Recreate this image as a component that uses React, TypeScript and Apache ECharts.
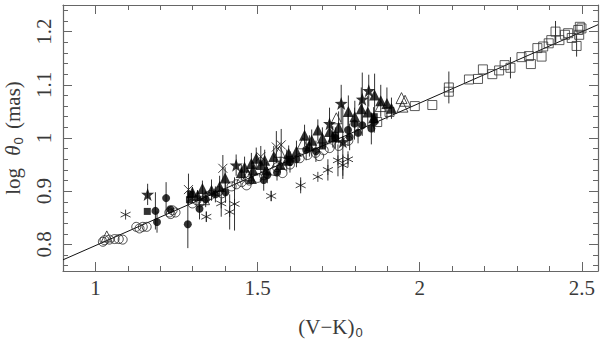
import React, { useEffect, useRef } from "react";
import * as echarts from "echarts";

// ---- data (x = (V-K)0, y = log theta0, e = error) ----
const fitLine = [[0.9, 0.771], [2.55, 1.213]];

const openCircles = [
  [1.023, 0.805], [1.028, 0.808], [1.043, 0.809], [1.059, 0.81], [1.072, 0.81], [1.084, 0.809],
  [1.126, 0.833], [1.136, 0.83], [1.146, 0.833], [1.158, 0.833],
  [1.228, 0.86], [1.238, 0.864], [1.247, 0.86], [1.232, 0.857],
  [1.299, 0.877], [1.312, 0.883], [1.321, 0.879], [1.33, 0.882], [1.345, 0.89], [1.355, 0.893],
  [1.38, 0.9], [1.39, 0.896],
  [1.42, 0.909], [1.435, 0.913], [1.451, 0.917], [1.466, 0.911], [1.475, 0.92], [1.5, 0.925], [1.52, 0.93],
  [1.552, 0.938], [1.577, 0.934], [1.56, 0.945], [1.6, 0.95],
  [1.63, 0.962], [1.654, 0.968], [1.679, 0.972], [1.704, 0.977], [1.722, 0.981], [1.69, 0.966],
  [1.75, 0.985], [1.78, 0.995],
];

const filledCircles = [
  [1.185, 0.863, 0.035], [1.19, 0.842, 0.02], [1.218, 0.887, 0.03], [1.231, 0.866, 0],
  [1.285, 0.838, 0.045], [1.321, 0.867, 0.02], [1.34, 0.885, 0.015], [1.37, 0.894, 0.015], [1.401, 0.898, 0.02],
  [1.519, 0.921, 0.02], [1.53, 0.93, 0.015], [1.56, 0.935, 0.015], [1.6, 0.955, 0.02], [1.62, 0.96, 0.015],
  [1.65, 0.978, 0.02], [1.68, 0.975, 0.02], [1.74, 1.0, 0.02],
  [1.779, 1.015, 0.03], [1.784, 1.002, 0.025], [1.799, 1.027, 0.03], [1.81, 1.01, 0.02],
  [1.823, 1.024, 0.02], [1.851, 1.018, 0.03], [1.86, 1.03, 0.02],
];

const stars = [
  [1.161, 0.894, 0.02], [1.434, 0.949, 0.02], [1.722, 1.027, 0.03], [1.758, 1.065, 0.035],
  [1.763, 0.993, 0.07], [1.823, 1.073, 0.05], [1.843, 1.089, 0.03],
];

const asterisks = [
  [1.093, 0.856, 0], [1.342, 0.852, 0.01], [1.388, 0.877, 0.025], [1.414, 0.861, 0.033],
  [1.429, 0.876, 0.05], [1.542, 0.891, 0.01], [1.633, 0.911, 0.015], [1.686, 0.927, 0],
  [1.717, 0.94, 0.02], [1.748, 0.958, 0.03], [1.763, 0.949, 0.02], [1.779, 0.96, 0.015],
];

const crosses = [
  [1.287, 0.903, 0.03], [1.393, 0.943, 0.025], [1.51, 0.965, 0.02], [1.558, 0.983, 0.03], [1.573, 0.987, 0.03],
];

const filledTriangles = [
  [1.299, 0.898, 0.01], [1.315, 0.892, 0.01], [1.33, 0.905, 0.015], [1.358, 0.902, 0.02], [1.383, 0.909, 0.02],
  [1.4, 0.925, 0.02], [1.45, 0.935, 0.015], [1.46, 0.945, 0.02], [1.481, 0.952, 0.02], [1.486, 0.94, 0.015],
  [1.481, 0.924, 0.01], [1.496, 0.962, 0.02], [1.51, 0.95, 0.015], [1.522, 0.958, 0.02], [1.527, 0.94, 0.015],
  [1.55, 0.965, 0.02], [1.57, 0.95, 0.015], [1.59, 0.958, 0.02], [1.596, 0.971, 0.015], [1.62, 0.975, 0.02],
  [1.645, 1.005, 0.02], [1.66, 0.985, 0.02], [1.667, 0.996, 0.02], [1.686, 1.015, 0.02], [1.7, 1.0, 0.02],
  [1.722, 1.012, 0.02], [1.732, 1.002, 0.02], [1.75, 1.02, 0.03], [1.78, 1.05, 0.03], [1.8, 1.04, 0.03],
  [1.82, 1.055, 0.04], [1.84, 1.049, 0.03], [1.858, 1.038, 0.02], [1.861, 1.081, 0.04], [1.88, 1.07, 0.03],
  [1.899, 1.065, 0.03], [1.913, 1.056, 0.02],
];

const openTriangles = [
  [1.035, 0.815], [1.335, 0.885], [1.47, 0.93], [1.568, 0.974], [1.64, 0.99], [1.743, 1.037],
  [1.88, 1.06], [1.944, 1.075], [1.947, 1.059], [1.955, 1.07],
];

const filledSquares = [
  [1.16, 0.862], [1.293, 0.894], [1.29, 0.884], [1.6, 0.96], [1.7, 0.985], [1.74, 1.005], [1.86, 1.04],
];

const openSquares = [
  [1.869, 1.03, 0], [1.907, 1.049, 0], [1.985, 1.06, 0], [2.039, 1.062, 0],
  [2.09, 1.095, 0.03], [2.09, 1.087, 0], [2.152, 1.11, 0], [2.18, 1.111, 0],
  [2.195, 1.129, 0], [2.224, 1.12, 0], [2.245, 1.127, 0], [2.262, 1.137, 0],
  [2.28, 1.132, 0.02], [2.314, 1.152, 0], [2.343, 1.139, 0], [2.337, 1.154, 0],
  [2.363, 1.169, 0], [2.376, 1.153, 0], [2.381, 1.172, 0], [2.398, 1.178, 0],
  [2.406, 1.184, 0], [2.419, 1.2, 0.02], [2.431, 1.184, 0], [2.448, 1.194, 0],
  [2.458, 1.197, 0], [2.469, 1.188, 0], [2.484, 1.173, 0.02], [2.489, 1.203, 0],
  [2.494, 1.209, 0], [2.492, 1.194, 0], [2.499, 1.206, 0],
];

const xLabels = [1, 1.5, 2, 2.5];
const yLabels = [0.8, 0.9, 1, 1.1, 1.2];

const X_MIN = 0.9, X_MAX = 2.55, Y_MIN = 0.75, Y_MAX = 1.25;

const xMinor: number[] = [];
for (let i = 10; i <= 25; i++) xMinor.push(Math.round(i * 10) / 100);
const yMinor: number[] = [];
for (let i = 38; i <= 62; i++) yMinor.push(Math.round(i * 2) / 100);

const STAR = "path://M0,-10 L2.35,-3.24 L9.51,-3.09 L3.8,1.24 L5.88,8.09 L0,4 L-5.88,8.09 L-3.8,1.24 L-9.51,-3.09 L-2.35,-3.24 Z";
const ASTER = "path://M0,-10 L0,10 M-8.66,-5 L8.66,5 M-8.66,5 L8.66,-5";
const CROSS = "path://M-10,-10 L10,10 M-10,10 L10,-10";

const FONT = "Liberation Serif";
const TXT = "#3a3a3a";
const FRAME = "#666";

export default function App() {
  const ref = useRef<HTMLDivElement>(null);
  useEffect(() => {
    if (!ref.current) return;
    const chart = echarts.init(ref.current, null, { renderer: "svg" });

    const errData = [
      ...filledCircles, ...stars, ...asterisks, ...crosses, ...filledTriangles, ...openSquares,
    ].filter((d) => d[2] > 0);

    const baseX = { type: "value", min: X_MIN, max: X_MAX, splitLine: { show: false } };
    const baseY = { type: "value", min: Y_MIN, max: Y_MAX, splitLine: { show: false } };
    const tick = (vals: number[], len: number) => ({
      show: true, inside: true, length: len, customValues: vals,
      lineStyle: { color: FRAME, width: 1 },
    });

    const openStyle = { color: "rgba(0,0,0,0)", borderColor: "#222", borderWidth: 1 };
    const strokeStyle = { color: "rgba(0,0,0,0)", borderColor: "#111", borderWidth: 1 };

    chart.setOption({
      animation: false,
      grid: { left: 63, right: 2, top: 5, bottom: 77, outerBoundsMode: "none" },
      xAxis: [
        {
          ...baseX, position: "bottom",
          axisLine: { show: true, lineStyle: { color: FRAME, width: 1.2 } },
          axisTick: tick(xMinor, 5),
          axisLabel: {
            customValues: xLabels, margin: 6, fontFamily: FONT, fontSize: 21, color: TXT,
            formatter: (v: number) => String(v),
          },
          name: "{a|(V\u2212K)}{s|0}", nameLocation: "middle", nameGap: 43,
          nameTextStyle: {
            rich: {
              a: { fontFamily: FONT, fontSize: 21, color: TXT },
              s: { fontFamily: "Liberation Sans", fontSize: 13, color: TXT, padding: [12, 0, 0, 1] },
            },
          },
        },
        { ...baseX, position: "bottom", axisLine: { show: false }, axisTick: tick(xLabels, 9), axisLabel: { show: false } },
        { ...baseX, position: "top", axisLine: { show: true, lineStyle: { color: FRAME, width: 1.2 } }, axisTick: tick(xMinor, 5), axisLabel: { show: false } },
        { ...baseX, position: "top", axisLine: { show: false }, axisTick: tick(xLabels, 9), axisLabel: { show: false } },
      ],
      yAxis: [
        {
          ...baseY, position: "left",
          axisLine: { show: true, lineStyle: { color: FRAME, width: 1.2 } },
          axisTick: tick(yMinor, 5),
          axisLabel: {
            customValues: yLabels, rotate: 90, margin: 9, fontFamily: FONT, fontSize: 21, color: TXT,
            formatter: (v: number) => String(v),
          },
          name: "{a|log }{t|\u03b8}{s|0}{a| (mas)}", nameLocation: "middle", nameGap: 36, nameRotate: 90,
          nameTextStyle: {
            rich: {
              a: { fontFamily: FONT, fontSize: 21, color: TXT },
              t: { fontFamily: FONT, fontSize: 21, fontStyle: "italic", color: TXT, padding: [0, 0, 0, 7] },
              s: { fontFamily: "Liberation Sans", fontSize: 13, color: TXT, padding: [12, 3, 0, 1] },
            },
          },
        },
        { ...baseY, position: "left", axisLine: { show: false }, axisTick: tick(yLabels, 9), axisLabel: { show: false } },
        { ...baseY, position: "right", axisLine: { show: true, lineStyle: { color: FRAME, width: 1.2 } }, axisTick: tick(yMinor, 5), axisLabel: { show: false } },
        { ...baseY, position: "right", axisLine: { show: false }, axisTick: tick(yLabels, 9), axisLabel: { show: false } },
      ],
      series: [
        {
          type: "line", data: fitLine, symbol: "none", silent: true,
          lineStyle: { color: "#111", width: 1 }, z: 1,
        },
        {
          type: "custom", data: errData, z: 2, silent: true,
          encode: { x: 0, y: 1 },
          renderItem: (_p: any, api: any) => {
            const x = api.value(0), y = api.value(1), e = api.value(2);
            const a = api.coord([x, y - e]);
            const b = api.coord([x, y + e]);
            return {
              type: "line",
              shape: { x1: a[0], y1: a[1], x2: b[0], y2: b[1] },
              style: { stroke: "#333", lineWidth: 1 },
            };
          },
        },
        { type: "scatter", data: openCircles, symbol: "circle", symbolSize: 9, itemStyle: openStyle, z: 3 },
        { type: "scatter", data: openSquares, symbol: "rect", symbolSize: 9, itemStyle: { ...openStyle, borderColor: "#333" }, z: 3 },
        { type: "scatter", data: openTriangles, symbol: "triangle", symbolSize: 11, itemStyle: openStyle, z: 3 },
        { type: "scatter", data: asterisks, symbol: ASTER, symbolSize: 10, itemStyle: strokeStyle, z: 3 },
        { type: "scatter", data: crosses, symbol: CROSS, symbolSize: 9, itemStyle: strokeStyle, z: 3 },
        { type: "scatter", data: filledCircles, symbol: "circle", symbolSize: 8, itemStyle: { color: "#000" }, z: 4 },
        { type: "scatter", data: filledSquares, symbol: "rect", symbolSize: 7, itemStyle: { color: "#000" }, z: 4 },
        { type: "scatter", data: filledTriangles, symbol: "triangle", symbolSize: 11, itemStyle: { color: "#000" }, z: 4 },
        { type: "scatter", data: stars, symbol: STAR, symbolSize: 13, itemStyle: { color: "#000" }, z: 4 },
      ],
    });
    return () => chart.dispose();
  }, []);
  return <div ref={ref} style={{ position: "fixed", left: 0, top: 0, width: 600, height: 348, background: "#fff" }} />;
}
